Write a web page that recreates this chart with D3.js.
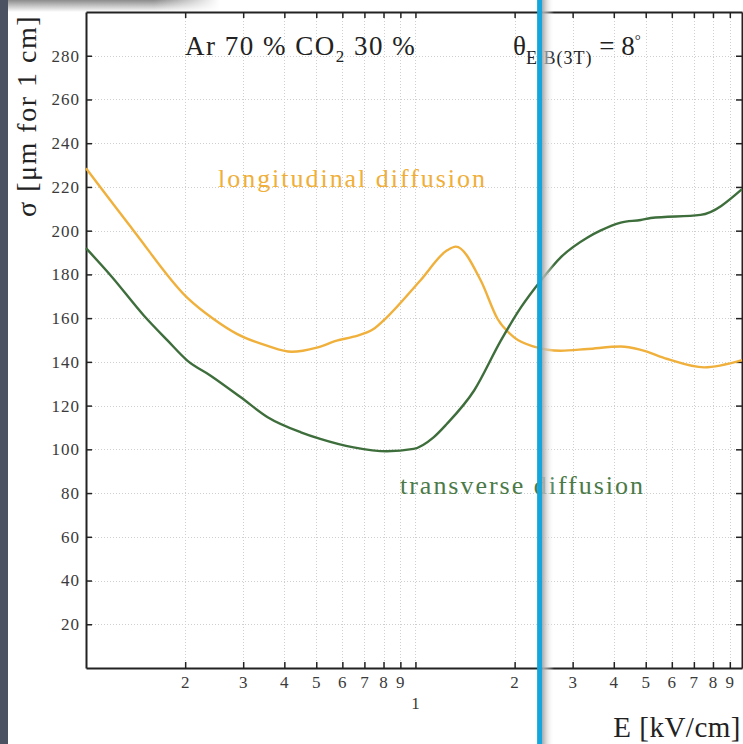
<!DOCTYPE html>
<html>
<head>
<meta charset="utf-8">
<title>Diffusion Ar/CO2</title>
<script src="https://d3js.org/d3.v7.min.js"></script>
<style>
  body { margin: 0; background: #fff; }
  text { font-family: "Liberation Serif", "DejaVu Serif", serif; }
</style>
</head>
<body>
<svg width="743" height="744"></svg>
<script>
// field E [kV/cm] and sigma [um for 1 cm]
var longE = [0.1, 0.1395, 0.2024, 0.2439, 0.287, 0.354, 0.421, 0.502, 0.577, 0.649, 0.746, 0.819, 1.033, 1.245, 1.326, 1.58, 1.776, 1.993, 2.29, 2.76, 3.33, 4.2, 4.83, 5.82, 7.52, 9.8];
var longS = [228.5, 200, 169.5, 159.6, 152.8, 147.4, 144.6, 146.5, 149.7, 151.5, 155, 160.4, 177.1, 190.9, 192.7, 177.1, 159.6, 151.2, 147, 145.1, 145.9, 147, 145.5, 141.3, 137.5, 140.8];

var transE = [0.1, 0.119, 0.15, 0.177, 0.203, 0.239, 0.295, 0.356, 0.449, 0.514, 0.649, 0.819, 0.987, 1.135, 1.245, 1.507, 1.816, 2.09, 2.4, 2.76, 3.33, 3.64, 4.2, 4.83, 5.18, 7.33, 9.8];
var transS = [192, 179.4, 161.1, 149.7, 140.6, 133.7, 123.8, 114.7, 107.8, 104.8, 100.9, 99.1, 100.2, 105.5, 111.6, 126.9, 149.7, 164.9, 177.1, 187.8, 196.9, 200, 203.7, 204.9, 205.8, 207.2, 219];

var yTicks = [20, 40, 60, 80, 100, 120, 140, 160, 180, 200, 220, 240, 260, 280];
var xTicks = [0.2, 0.3, 0.4, 0.5, 0.6, 0.7, 0.8, 0.9, 1, 2, 3, 4, 5, 6, 7, 8, 9];
var markerE = 2.39; // the blue vertical marker

var svg = d3.select("svg");
var pl = 86, pr = 742, pt = 12, pb = 668;

var x = d3.scaleLog().domain([0.1, 9.8]).range([pl, pr]);
var y = d3.scaleLinear().domain([0, 300]).range([pb, pt]);

// background bits: dark strip on the left, shadow at top left
var defs = svg.append("defs");
var sh = defs.append("linearGradient").attr("id", "topShadow").attr("x1", 0).attr("y1", 0).attr("x2", 0).attr("y2", 1);
sh.append("stop").attr("offset", 0).attr("stop-color", "#8c8c8c");
sh.append("stop").attr("offset", 1).attr("stop-color", "#ffffff");
var shx = defs.append("linearGradient").attr("id", "topShadowX").attr("x1", 0).attr("y1", 0).attr("x2", 1).attr("y2", 0);
shx.append("stop").attr("offset", 0.7).attr("stop-color", "#fff").attr("stop-opacity", 0);
shx.append("stop").attr("offset", 1).attr("stop-color", "#fff").attr("stop-opacity", 1);
var bs = defs.append("linearGradient").attr("id", "blueShadow").attr("x1", 0).attr("y1", 0).attr("x2", 1).attr("y2", 0);
bs.append("stop").attr("offset", 0).attr("stop-color", "#a8a8a8");
bs.append("stop").attr("offset", 1).attr("stop-color", "#ffffff").attr("stop-opacity", 0);

svg.append("rect").attr("x", 0).attr("y", 0).attr("width", 220).attr("height", 12).attr("fill", "url(#topShadow)");
svg.append("rect").attr("x", 0).attr("y", 0).attr("width", 220).attr("height", 12).attr("fill", "url(#topShadowX)");
svg.append("rect").attr("x", 0).attr("y", 0).attr("width", 8).attr("height", 744).attr("fill", "#4b5262");

// grid
var grid = svg.append("g").attr("stroke", "#cfcfcf").attr("stroke-width", 1).attr("stroke-dasharray", "1,2");
grid.selectAll(".gy").data(yTicks).enter().append("line")
  .attr("x1", pl).attr("x2", pr)
  .attr("y1", function(d) { return Math.round(y(d)) + 0.5; })
  .attr("y2", function(d) { return Math.round(y(d)) + 0.5; });
grid.selectAll(".gx").data(xTicks).enter().append("line")
  .attr("y1", pt).attr("y2", pb)
  .attr("x1", function(d) { return Math.round(x(d)) + 0.5; })
  .attr("x2", function(d) { return Math.round(x(d)) + 0.5; });

// axes, ticks inward
var fmtX = function(d) { return d === 1 ? "" : (d < 1 ? Math.round(d * 10) : d); };
svg.append("g").attr("transform", "translate(0," + pb + ")")
  .call(d3.axisBottom(x).tickValues(xTicks).tickSize(-6).tickSizeOuter(0).tickPadding(8).tickFormat(fmtX));
svg.append("g").attr("transform", "translate(0," + pt + ")")
  .call(d3.axisTop(x).tickValues(xTicks).tickSize(-6).tickSizeOuter(0).tickFormat(""));
svg.append("g").attr("transform", "translate(" + pl + ",0)")
  .call(d3.axisLeft(y).tickValues(yTicks).tickSize(-6).tickSizeOuter(0).tickPadding(6));
svg.append("g").attr("transform", "translate(" + pr + ",0)")
  .call(d3.axisRight(y).tickValues(yTicks).tickSize(-6).tickSizeOuter(0).tickFormat(""));

svg.selectAll(".domain").attr("stroke", "#222").attr("stroke-width", 2);
svg.selectAll(".tick line").attr("stroke", "#222").attr("stroke-width", 1.5);
svg.selectAll(".tick text").attr("font-family", "Liberation Serif, serif").attr("font-size", 17)
  .attr("letter-spacing", 1).attr("fill", "#3a3a3a");

svg.append("text").attr("x", x(1)).attr("y", 709).attr("text-anchor", "middle")
  .attr("font-size", 17).attr("fill", "#3a3a3a").text("1");

// curves
var line = d3.line().curve(d3.curveMonotoneX)
  .x(function(d) { return x(d[0]); })
  .y(function(d) { return y(d[1]); });

svg.append("path").datum(d3.zip(longE, longS))
  .attr("fill", "none").attr("stroke", "#f0b03c").attr("stroke-width", 2.4).attr("d", line);
svg.append("path").datum(d3.zip(transE, transS))
  .attr("fill", "none").attr("stroke", "#3e6e3c").attr("stroke-width", 2.4).attr("d", line);

// labels
svg.append("text").attr("x", 218).attr("y", 187).attr("font-size", 26).attr("fill", "#efaf3a")
  .attr("textLength", 267).attr("lengthAdjust", "spacing")
  .text("longitudinal diffusion");
svg.append("text").attr("x", 400).attr("y", 494).attr("font-size", 26).attr("fill", "#4b7a48")
  .attr("textLength", 243).attr("lengthAdjust", "spacing")
  .text("transverse diffusion");

var t1 = svg.append("text").attr("x", 185).attr("y", 55).attr("font-size", 27)
  .attr("letter-spacing", 1.5).attr("fill", "#222");
t1.append("tspan").text("Ar 70 % CO");
t1.append("tspan").attr("font-size", 17).attr("dy", 7).text("2");
t1.append("tspan").attr("dy", -7).text(" 30 %");

var t2 = svg.append("text").attr("x", 513).attr("y", 55).attr("font-size", 27).attr("fill", "#222");
t2.append("tspan").text("θ");
t2.append("tspan").attr("font-size", 18).attr("letter-spacing", 1).attr("dy", 9).text("E,B(3T)");
t2.append("tspan").attr("dy", -9).text(" = 8");
t2.append("tspan").attr("font-size", 15).attr("dy", -10).text("°");

svg.append("text").attr("transform", "translate(36,15) rotate(-90)")
  .attr("text-anchor", "end").attr("font-size", 28).attr("letter-spacing", 1.5).attr("fill", "#222")
  .text("σ [μm for 1 cm]");

svg.append("text").attr("x", 741).attr("y", 737).attr("text-anchor", "end")
  .attr("font-size", 29).attr("letter-spacing", 0.5).attr("fill", "#222").text("E [kV/cm]");

// blue marker with its shadow
var mx = x(markerE);
svg.append("rect").attr("x", mx + 2).attr("y", 0).attr("width", 12).attr("height", 744).attr("fill", "url(#blueShadow)");
svg.append("rect").attr("x", mx - 3).attr("y", 0).attr("width", 5).attr("height", 744).attr("fill", "#12a6dc");
</script>
</body>
</html>
